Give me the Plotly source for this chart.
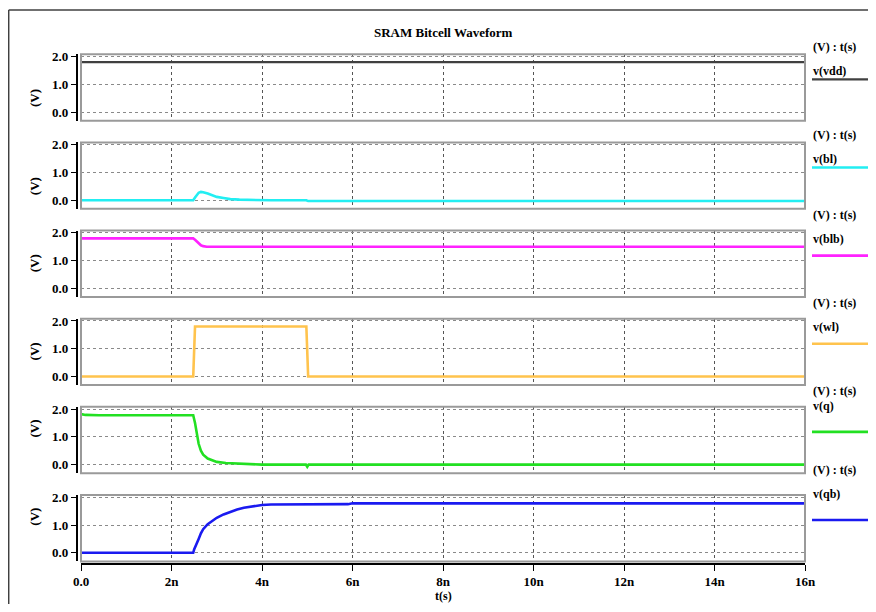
import plotly.graph_objects as go

# page has an 8px body margin; size the figure so the page fits the 876x612 window exactly
OX, OY = 8, 8
W, H = 868, 596

# ---- data (time in ns, voltage in V) ----
names = ["v(vdd)", "v(bl)", "v(blb)", "v(wl)", "v(q)", "v(qb)"]
colors = ["#404040", "#22EEF2", "#FF22FF", "#FFC34D", "#22E022", "#1A1AF0"]

t_vdd = [0, 16]
v_vdd = [1.8, 1.8]

t_bl = [0, 2.48, 2.52, 2.56, 2.6, 2.65, 2.7, 2.8, 2.9, 3.0, 3.15, 3.3, 3.5, 3.8, 4.2, 4.98, 5.02, 16]
v_bl = [0, 0, 0.1, 0.2, 0.27, 0.3, 0.29, 0.24, 0.18, 0.12, 0.08, 0.04, 0.02, 0.01, 0, 0, -0.03, -0.03]

t_blb = [0, 2.48, 2.52, 2.56, 2.6, 2.65, 2.7, 2.78, 16]
v_blb = [1.8, 1.8, 1.75, 1.68, 1.6, 1.55, 1.52, 1.5, 1.5]

t_wl = [0, 2.48, 2.52, 4.98, 5.02, 16]
v_wl = [0, 0, 1.8, 1.8, 0, 0]

t_q = [0, 0.1, 0.4, 2.48, 2.52, 2.56, 2.6, 2.65, 2.7, 2.8, 2.9, 3.0, 3.2, 3.4, 3.7, 4.0, 4.97, 5.0, 5.03, 16]
v_q = [1.82, 1.79, 1.78, 1.78, 1.5, 1.05, 0.75, 0.5, 0.36, 0.22, 0.15, 0.1, 0.06, 0.04, 0.02, 0, 0, -0.08, 0, 0]

t_qb = [0, 2.48, 2.5, 2.53, 2.57, 2.6, 2.65, 2.7, 2.8, 2.9, 3.0, 3.15, 3.3, 3.45, 3.6, 3.8, 4.0, 4.2, 5.9, 6.0, 16]
v_qb = [0, 0, 0.12, 0.22, 0.35, 0.5, 0.7, 0.85, 1.03, 1.15, 1.26, 1.38, 1.48, 1.56, 1.62, 1.68, 1.72, 1.74, 1.75, 1.78, 1.78]

series = [(t_vdd, v_vdd), (t_bl, v_bl), (t_blb, v_blb), (t_wl, v_wl), (t_q, v_q), (t_qb, v_qb)]

x_ticks = [0, 2, 4, 6, 8, 10, 12, 14, 16]
x_ticktext = ["0.0", "2n", "4n", "6n", "8n", "10n", "12n", "14n", "16n"]
y_ticks = [0, 1, 2]
y_ticktext = ["0.0", "1.0", "2.0"]

# ---- layout helpers (window pixels -> paper fractions) ----
def xp(p):
    return (p - OX) / W

def yp(p):
    return 1 - (p - OY) / H

FONT = "Liberation Serif"
X0, X1 = 81, 805
TOP0, STEP, PH = 54.3, 88.14, 66.4

fig = go.Figure()
layout = dict(
    width=W, height=H,
    margin=dict(l=0, r=0, t=0, b=0, pad=0, autoexpand=False),
    paper_bgcolor="white", plot_bgcolor="white", showlegend=False,
    template="none",
)
shapes = []
annotations = []

for k, ((t, v), name, col) in enumerate(zip(series, names, colors)):
    i = k + 1
    sx = "" if i == 1 else str(i)
    T = TOP0 + STEP * k
    B = T + PH
    fig.add_trace(go.Scatter(x=t, y=v, mode="lines", xaxis=f"x{sx}", yaxis=f"y{sx}",
                             line=dict(color=col, width=2.6 if k else 2.2), hoverinfo="skip"))
    layout[f"xaxis{i}"] = dict(
        domain=[xp(X0), xp(X1)], anchor=f"y{sx}", range=[0, 16],
        tickvals=x_ticks, showticklabels=False, ticks="", automargin=False,
        showgrid=True, gridcolor="#555555", griddash="dot", gridwidth=1,
        zeroline=False, showline=False,
    )
    layout[f"yaxis{i}"] = dict(
        domain=[yp(B), yp(T)], anchor="free", position=xp(76.7), range=[-0.31, 2.08],
        tickvals=y_ticks, ticktext=y_ticktext, ticks="outside", ticklen=5,
        tickcolor="black", showline=True, linecolor="black", linewidth=1.5,
        showgrid=True, gridcolor="#8a8a8a", griddash="dot", gridwidth=1,
        zeroline=False, automargin=False,
        tickfont=dict(family=FONT, size=13, color="black", weight="bold"),
    )
    shapes.append(dict(type="rect", xref=f"x{sx} domain", yref=f"y{sx} domain",
                       x0=0, x1=1, y0=0, y1=1, line=dict(color="#9a9a9a", width=2)))
    # (V) label
    annotations.append(dict(x=xp(25), y=yp((T + B) / 2), xref="paper", yref="paper",
                            text="(V)", textangle=-90, showarrow=False,
                            font=dict(family=FONT, size=13, color="black", weight="bold")))
    # legend block
    annotations.append(dict(x=xp(811), y=yp(T - 16), xref="paper", yref="paper",
                            text="(V) : t(s)", showarrow=False, xanchor="left",
                            font=dict(family=FONT, size=12, color="black", weight="bold")))
    annotations.append(dict(x=xp(811), y=yp(T + 8), xref="paper", yref="paper",
                            text=name, showarrow=False, xanchor="left",
                            font=dict(family=FONT, size=12, color="black", weight="bold")))
    shapes.append(dict(type="line", xref="paper", yref="paper",
                       x0=xp(812), x1=xp(873), y0=yp(T + 25), y1=yp(T + 25),
                       line=dict(color=col, width=2.6 if k else 2.2)))

# bottom time axis, slightly below the last panel
fig.add_trace(go.Scatter(x=[0, 16], y=[None, None], xaxis="x7", yaxis="y6",
                         mode="lines", hoverinfo="skip", showlegend=False))
layout["xaxis7"] = dict(
    overlaying="x6", anchor="free", position=yp(564), side="bottom", range=[0, 16],
    tickvals=x_ticks, ticktext=x_ticktext, ticks="outside", ticklen=6,
    tickcolor="black", showline=True, linecolor="black", linewidth=1.5,
    showgrid=False, zeroline=False, automargin=False, ticklabelstandoff=0,
    tickfont=dict(family=FONT, size=13, color="black", weight="bold"),
)

annotations.append(dict(x=xp(443), y=0, xref="paper", yref="paper",
                        text="t(s)", showarrow=False, yanchor="bottom", borderpad=0,
                        font=dict(family=FONT, size=12, color="black", weight="bold")))
annotations.append(dict(x=xp(443), y=yp(23), xref="paper", yref="paper",
                        text="SRAM Bitcell Waveform", showarrow=False,
                        font=dict(family=FONT, size=13, color="black", weight="bold")))

# outer border (top and left)
shapes.append(dict(type="line", xref="paper", yref="paper", x0=xp(8.7), x1=1, y0=yp(10), y1=yp(10),
                   line=dict(color="#404040", width=1.5)))
shapes.append(dict(type="line", xref="paper", yref="paper", x0=xp(8.7), x1=xp(8.7), y0=0, y1=yp(10),
                   line=dict(color="#404040", width=1.5)))

layout["shapes"] = shapes
layout["annotations"] = annotations
fig.update_layout(**layout)

fig.write_html("out.html")
